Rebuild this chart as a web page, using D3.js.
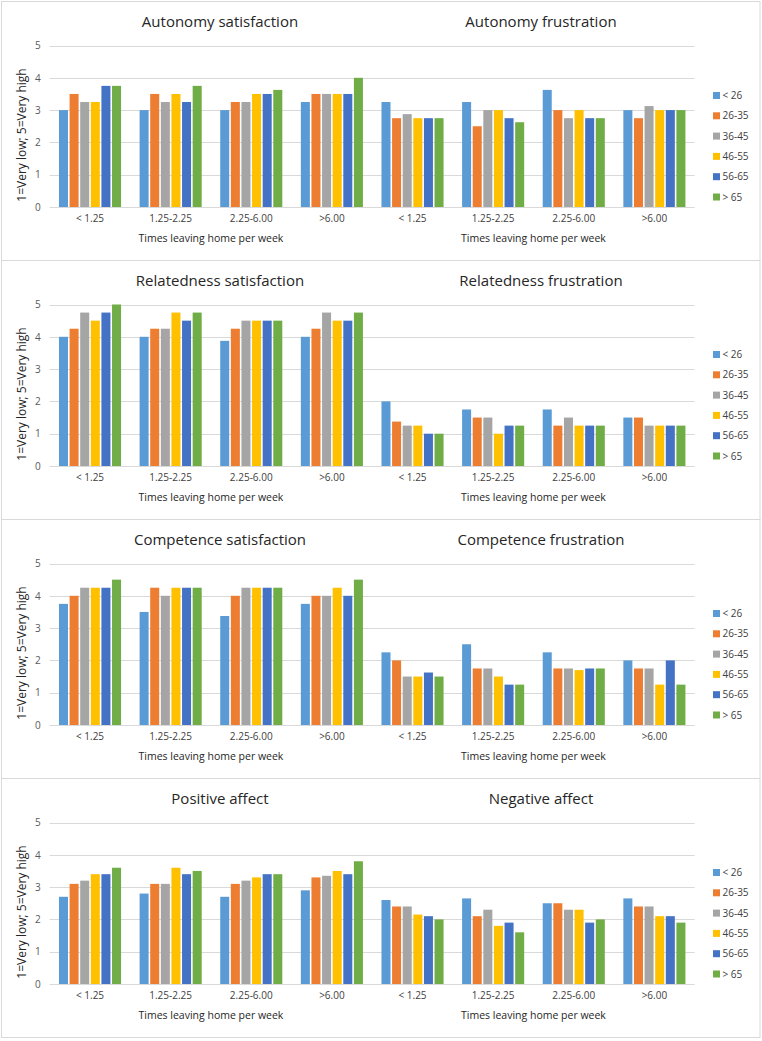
<!DOCTYPE html>
<html><head><meta charset="utf-8">
<script src="https://cdn.jsdelivr.net/npm/d3@7"></script>
<style>body{margin:0;background:#fff;} svg{display:block;font-family:"Open Sans",sans-serif;}</style>
</head><body><svg id="c" width="762" height="1041"></svg>
<script>
const categories = ["< 1.25", "1.25-2.25", "2.25-6.00", ">6.00"];
const ageGroups = ["< 26", "26-35", "36-45", "46-55", "56-65", "> 65"];
const colors = ["#5B9BD5", "#ED7D31", "#A5A5A5", "#FFC000", "#4472C4", "#70AD47"];
const yTicks = [0, 1, 2, 3, 4, 5];
const xTitle = "Times leaving home per week";
const yTitle = "1=Very low; 5=Very high";

// values: one row per category, one value per age group
const autonomySatisfaction = [[3.0,3.5,3.25,3.25,3.75,3.75],[3.0,3.5,3.25,3.5,3.25,3.75],[3.0,3.25,3.25,3.5,3.5,3.625],[3.25,3.5,3.5,3.5,3.5,4.0]];
const autonomyFrustration = [[3.25,2.75,2.875,2.75,2.75,2.75],[3.25,2.5,3.0,3.0,2.75,2.625],[3.625,3.0,2.75,3.0,2.75,2.75],[3.0,2.75,3.125,3.0,3.0,3.0]];
const relatednessSatisfaction = [[4.0,4.25,4.75,4.5,4.75,5.0],[4.0,4.25,4.25,4.75,4.5,4.75],[3.875,4.25,4.5,4.5,4.5,4.5],[4.0,4.25,4.75,4.5,4.5,4.75]];
const relatednessFrustration = [[2.0,1.375,1.25,1.25,1.0,1.0],[1.75,1.5,1.5,1.0,1.25,1.25],[1.75,1.25,1.5,1.25,1.25,1.25],[1.5,1.5,1.25,1.25,1.25,1.25]];
const competenceSatisfaction = [[3.75,4.0,4.25,4.25,4.25,4.5],[3.5,4.25,4.0,4.25,4.25,4.25],[3.375,4.0,4.25,4.25,4.25,4.25],[3.75,4.0,4.0,4.25,4.0,4.5]];
const competenceFrustration = [[2.25,2.0,1.5,1.5,1.625,1.5],[2.5,1.75,1.75,1.5,1.25,1.25],[2.25,1.75,1.75,1.7,1.75,1.75],[2.0,1.75,1.75,1.25,2.0,1.25]];
const positiveAffect = [[2.7,3.1,3.2,3.4,3.4,3.6],[2.8,3.1,3.1,3.6,3.4,3.5],[2.7,3.1,3.2,3.3,3.4,3.4],[2.9,3.3,3.35,3.5,3.4,3.8]];
const negativeAffect = [[2.6,2.4,2.4,2.15,2.1,2.0],[2.65,2.1,2.3,1.8,1.9,1.6],[2.5,2.5,2.3,2.3,1.9,2.0],[2.65,2.4,2.4,2.1,2.1,1.9]];

const rows = [
  {titles: ["Autonomy satisfaction", "Autonomy frustration"], data: [autonomySatisfaction, autonomyFrustration]},
  {titles: ["Relatedness satisfaction", "Relatedness frustration"], data: [relatednessSatisfaction, relatednessFrustration]},
  {titles: ["Competence satisfaction", "Competence frustration"], data: [competenceSatisfaction, competenceFrustration]},
  {titles: ["Positive affect", "Negative affect"], data: [positiveAffect, negativeAffect]}
];

const svg = d3.select("#c");
const rowTops = [1, 260, 519, 778];
const rowH = 259;
const plotL = 49.7, plotR = 694.7;
const keys = [];
[0, 1].forEach(s => categories.forEach((c, i) => keys.push(s + "|" + i)));
const x = d3.scaleBand().domain(keys).range([plotL, plotR]).paddingInner(0.23).paddingOuter(0.115);
const xs = d3.scaleBand().domain(ageGroups).range([0, x.bandwidth()]).paddingInner(0.15);
const color = d3.scaleOrdinal().domain(ageGroups).range(colors);

rows.forEach((row, r) => {
  const top = rowTops[r];
  const g = svg.append("g");
  g.append("rect").attr("x", 1.5).attr("y", top + 0.5).attr("width", 758.5).attr("height", rowH)
    .attr("fill", "#fff").attr("stroke", "#d9d9d9").attr("stroke-width", 1);
  const y = d3.scaleLinear().domain([0, 5]).range([top + 206, top + 44.5]);

  // gridlines
  g.append("g").selectAll("line").data(yTicks).join("line")
    .attr("x1", plotL).attr("x2", plotR)
    .attr("y1", d => Math.round(y(d)) + 0.5).attr("y2", d => Math.round(y(d)) + 0.5)
    .attr("stroke", "#d9d9d9").attr("stroke-width", 1);

  // y axis
  const ya = g.append("g").attr("transform", `translate(${plotL - 9},0)`)
    .call(d3.axisLeft(y).tickValues(yTicks).tickFormat(d3.format("d")).tickSize(0).tickPadding(0));
  ya.select(".domain").remove();
  ya.selectAll("text").attr("fill", "#595959").style("font-size", "10px").style("font-family", '"Open Sans",sans-serif');

  g.append("text").attr("transform", `translate(22,${top + 134}) rotate(-90)`)
    .attr("text-anchor", "middle").attr("dy", "0.35em")
    .attr("fill", "#262626").style("font-size", "12px").text(yTitle);

  // bars
  row.data.forEach((panel, s) => {
    panel.forEach((vals, ci) => {
      const gx = x(s + "|" + ci);
      g.append("g").selectAll("rect").data(vals).join("rect")
        .attr("x", (d, k) => gx + xs(ageGroups[k]))
        .attr("width", xs.bandwidth())
        .attr("y", d => y(d))
        .attr("height", d => y(0) - y(d))
        .attr("fill", (d, k) => color(ageGroups[k]));
    });
  });

  // x axis
  const xa = g.append("g").attr("transform", `translate(0,${top + 214})`)
    .call(d3.axisBottom(x).tickSize(0).tickPadding(0).tickFormat(k => categories[+k.split("|")[1]]));
  xa.select(".domain").remove();
  xa.selectAll("text").attr("fill", "#404040").style("font-size", "10px").style("font-family", '"Open Sans",sans-serif');

  // x titles and panel titles
  const halfCenters = [(plotL + plotR) / 2 - (plotR - plotL) / 4, (plotL + plotR) / 2 + (plotR - plotL) / 4];
  const titleCenters = [220, 541];
  [0, 1].forEach(s => {
    g.append("text").attr("x", halfCenters[s]).attr("y", top + 237.5).attr("dy", "0.35em")
      .attr("text-anchor", "middle").attr("fill", "#262626").style("font-size", "10.5px").text(xTitle);
    g.append("text").attr("x", titleCenters[s]).attr("y", top + 20.5).attr("dy", "0.35em")
      .attr("text-anchor", "middle").attr("fill", "#262626").style("font-size", "15px").text(row.titles[s]);
  });

  // legend
  const lg = g.append("g").selectAll("g").data(ageGroups).join("g")
    .attr("transform", (d, i) => `translate(713,${top + 94.5 + i * 20.3})`);
  lg.append("rect").attr("x", 0).attr("y", -3.5).attr("width", 7).attr("height", 7).attr("fill", d => color(d));
  lg.append("text").attr("x", 9.5).attr("dy", "0.35em").attr("fill", "#404040")
    .style("font-size", "10px").text(d => d);
});
</script>
</body></html>
